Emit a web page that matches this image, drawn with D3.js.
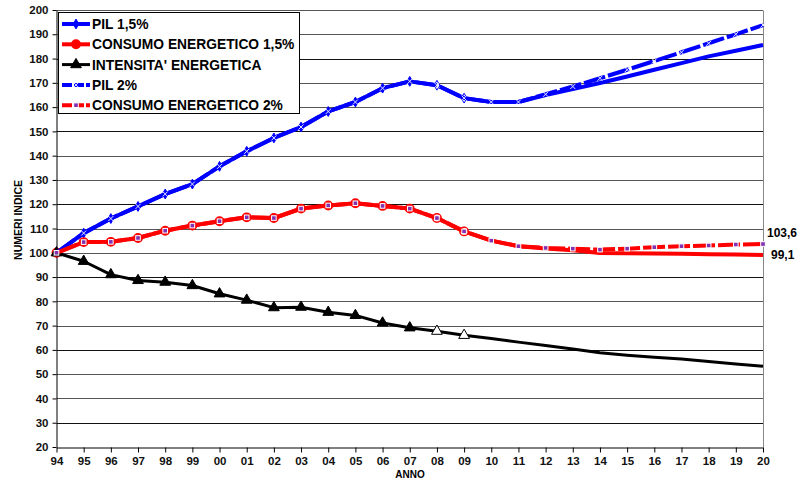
<!DOCTYPE html>
<html>
<head>
<meta charset="utf-8">
<script src="https://cdn.jsdelivr.net/npm/d3@7"></script>
<style>
  * { margin: 0; padding: 0; }
  body { background: #fff; }
  svg { display: block; font-family: "Liberation Sans", Arial, sans-serif; font-weight: bold; }
</style>
</head>
<body>
<svg id="chart" width="807" height="479"></svg>
<script>
var years = ["94","95","96","97","98","99","00","01","02","03","04","05","06","07","08","09","10","11","12","13","14","15","16","17","18","19","20"];
var yTicks = [20,30,40,50,60,70,80,90,100,110,120,130,140,150,160,170,180,190,200];

var pil15 = [100,108.1,114.1,119.1,124.2,128.3,135.6,141.8,147.3,151.8,158.2,162.1,167.8,170.6,169.0,163.7,162.1,162.1,165.0,167.4,169.9,172.6,175.4,178.1,180.9,183.2,185.6];
var pil2 = [100,108.1,114.1,119.1,124.2,128.3,135.6,141.8,147.3,151.8,158.2,162.1,167.8,170.6,169.0,163.7,162.1,162.1,165.3,168.5,171.9,175.4,179.0,182.6,186.3,190.0,193.8];
var consumo15 = [100,104.4,104.5,106.1,109.1,111.2,113.0,114.6,114.3,118.2,119.5,120.4,119.3,118.2,114.3,108.8,105.0,102.7,101.8,101.0,99.9,99.8,99.7,99.6,99.4,99.3,99.1];
var consumo2 = [100,104.4,104.5,106.1,109.1,111.2,113.0,114.6,114.3,118.2,119.5,120.4,119.3,118.2,114.3,108.8,105.0,102.7,102.0,101.7,101.3,101.7,102.3,102.7,103.0,103.4,103.6];
var intensita = [100,96.5,91.0,88.6,87.9,86.5,83.1,80.5,77.4,77.6,75.5,74.2,71.1,69.1,67.7,66.0,64.7,63.2,61.8,60.4,58.8,57.8,57.0,56.2,55.2,54.2,53.3];

var names = ["PIL 1,5%", "CONSUMO ENERGETICO 1,5%", "INTENSITA' ENERGETICA", "PIL 2%", "CONSUMO ENERGETICO 2%"];
var endLabels = ["103,6", "99,1"];

var svg = d3.select("#chart");
var x = d3.scalePoint().domain(years).range([56.5, 763]);
var y = d3.scaleLinear().domain([20, 200]).range([447, 10]);

// grid
svg.append("g").selectAll("line").data(yTicks.slice(1)).enter().append("line")
  .attr("x1", 56.5).attr("x2", 763)
  .attr("y1", function (d) { return Math.round(y(d)) + 0.5; })
  .attr("y2", function (d) { return Math.round(y(d)) + 0.5; })
  .attr("stroke", function (d, i) { return i % 3 == 0 ? "#111" : "#555"; })
  .attr("stroke-width", 1);
svg.append("line").attr("x1", 763.5).attr("x2", 763.5).attr("y1", 10.5).attr("y2", 447)
  .attr("stroke", "#888");

// axes
var yAxis = svg.append("g").attr("transform", "translate(56.5,0)")
  .call(d3.axisLeft(y).tickValues(yTicks).tickSize(4).tickSizeOuter(0));
var xAxis = svg.append("g").attr("transform", "translate(0," + (Math.round(y(20)) + 0.5) + ")")
  .call(d3.axisBottom(x).tickSize(5).tickSizeOuter(0));
[yAxis, xAxis].forEach(function (a) {
  a.select(".domain").attr("stroke", "#000");
  a.selectAll(".tick line").attr("stroke", "#000");
  a.selectAll("text").attr("fill", "#111").style("font-size", "11.5px").style("font-weight", "bold")
    .style("font-family", "'Liberation Sans', Arial, sans-serif");
});
yAxis.selectAll("text").attr("x", -8);
xAxis.selectAll("text").attr("y", 9.5);

svg.append("text").attr("x", 410).attr("y", 478).attr("text-anchor", "middle")
  .style("font-size", "10px").text("ANNO");
svg.append("text").attr("transform", "translate(22,220) rotate(-90)").attr("text-anchor", "middle")
  .style("font-size", "10.5px").text("NUMERI INDICE");

var line = d3.line().x(function (d, i) { return x(years[i]); }).y(function (d) { return y(d); });

function drawLine(data, color, width, dash) {
  svg.append("path").datum(data).attr("d", line)
    .attr("fill", "none").attr("stroke", color).attr("stroke-width", width)
    .attr("stroke-linejoin", "round").attr("stroke-dasharray", dash || null);
}

function marker(g, type, cx, cy, hollow) {
  if (type == "diamond") {
    g.append("path").attr("d", d3.symbol().type(d3.symbolDiamond).size(28)())
      .attr("transform", "translate(" + cx + "," + cy + ")")
      .attr("fill", hollow ? "#fff" : "#0000ff").attr("stroke", "#0000ff");
  } else if (type == "circle") {
    g.append("circle").attr("cx", cx).attr("cy", cy).attr("r", 4.2)
      .attr("fill", hollow ? "#fff" : "#ff0000").attr("stroke", "#ff0000").attr("stroke-width", 1.5);
  } else if (type == "triangle") {
    g.append("path").attr("d", d3.symbol().type(d3.symbolTriangle).size(50)())
      .attr("transform", "translate(" + cx + "," + cy + ")")
      .attr("fill", hollow ? "#fff" : "#000").attr("stroke", "#000");
  } else if (type == "x") {
    g.append("path").attr("d", "M-2.5,-2.5L2.5,2.5M-2.5,2.5L2.5,-2.5")
      .attr("transform", "translate(" + cx + "," + cy + ")")
      .attr("stroke", "#e8e8ff").attr("stroke-width", 1);
  } else if (type == "square") {
    g.append("rect").attr("x", cx - 2.3).attr("y", cy - 2.3).attr("width", 4.6).attr("height", 4.6)
      .attr("fill", "#8030b0").attr("stroke", "#fff").attr("stroke-width", 1);
  }
}

function drawMarkers(data, type, filledUntil, lastIndex) {
  var g = svg.append("g");
  data.forEach(function (d, i) {
    if (i > lastIndex) return;
    marker(g, type, x(years[i]), y(d), i > filledUntil);
  });
}

drawLine(pil15, "#0000ff", 4);
drawMarkers(pil15, "diamond", 13, 15);
drawLine(consumo15, "#ff0000", 4);
drawMarkers(consumo15, "circle", 13, 15);
drawLine(intensita, "#000", 3);
drawMarkers(intensita, "triangle", 13, 15);
drawLine(pil2, "#0000ff", 4, "22,3");
drawMarkers(pil2, "x", 99, 99);
drawLine(consumo2, "#ff0000", 4, "22,3");
drawMarkers(consumo2, "square", 99, 99);

// end labels
svg.append("text").attr("x", 767).attr("y", 237).style("font-size", "12px").text(endLabels[0]);
svg.append("text").attr("x", 771).attr("y", 259).style("font-size", "12px").text(endLabels[1]);

// legend
var leg = svg.append("g");
leg.append("rect").attr("x", 58.5).attr("y", 12.5).attr("width", 241).attr("height", 101)
  .attr("fill", "#fff").attr("stroke", "#000");
var legColors = ["#0000ff", "#ff0000", "#000", "#0000ff", "#ff0000"];
var legTypes = ["diamond", "circle", "triangle", "x", "square"];
var legDash = [null, null, null, "10,2", "10,2"];
names.forEach(function (n, i) {
  var ly = 24 + i * 20.3;
  leg.append("line").attr("x1", 62).attr("x2", 90).attr("y1", ly).attr("y2", ly)
    .attr("stroke", legColors[i]).attr("stroke-width", i == 2 ? 3 : 4)
    .attr("stroke-dasharray", legDash[i]);
  marker(leg, legTypes[i], 76, ly, false);
  leg.append("text").attr("x", 92).attr("y", ly + 5).style("font-size", "13.8px").text(n);
});
</script>
</body>
</html>
